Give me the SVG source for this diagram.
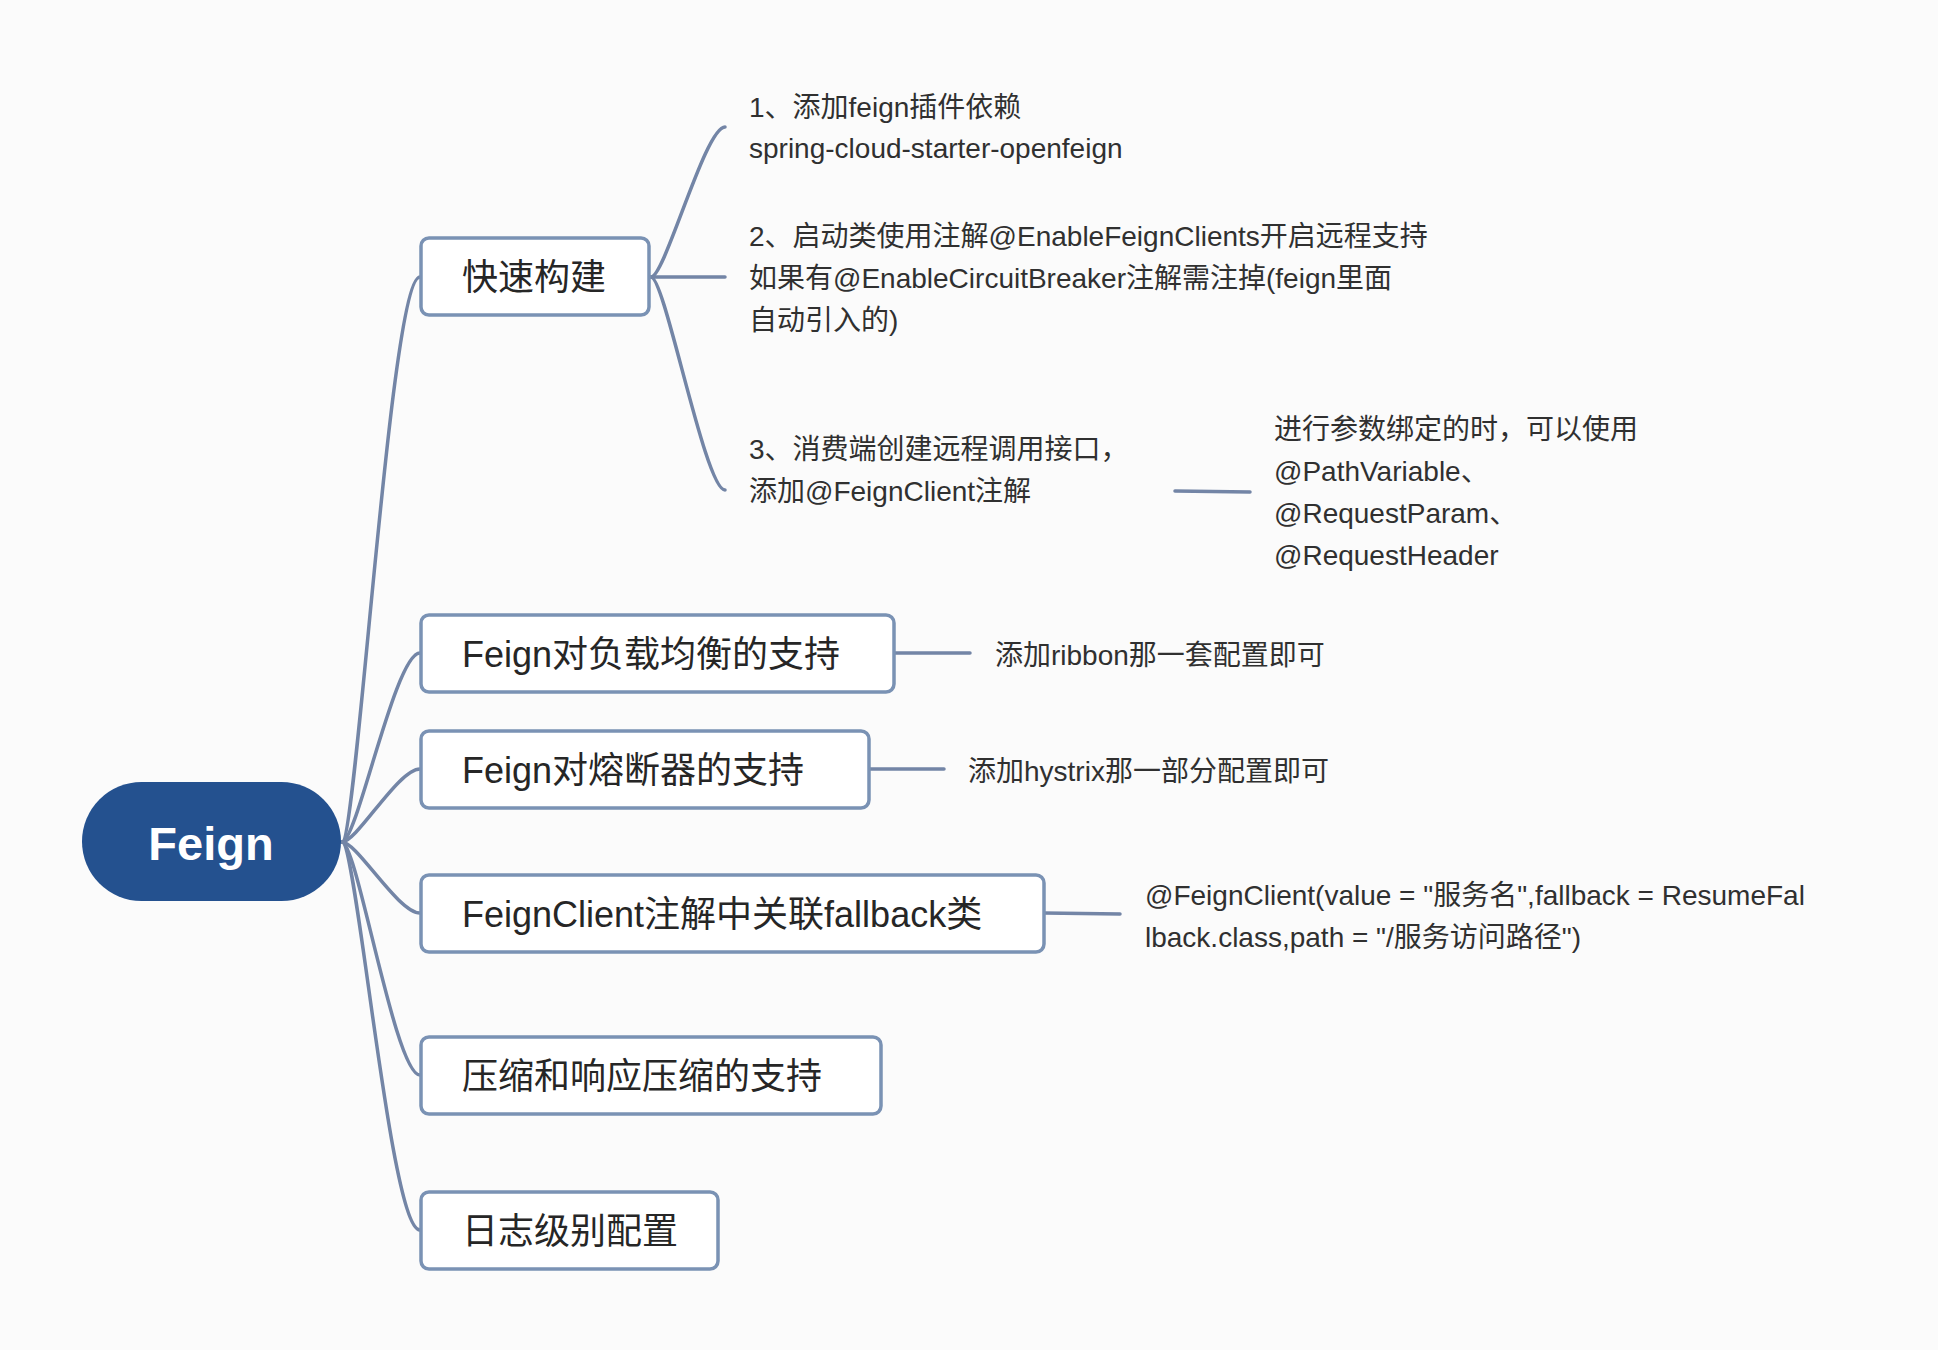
<svg xmlns="http://www.w3.org/2000/svg" width="1938" height="1350" viewBox="0 0 1938 1350">
<style>
.bg{fill:#fbfbfb}
.box{fill:#ffffff;stroke:#7a92b4;stroke-width:3.5}
.lbl{font-family:"Liberation Sans","Noto Sans CJK SC",sans-serif;font-size:36px;fill:#262626}
.txt{font-family:"Liberation Sans","Noto Sans CJK SC",sans-serif;font-size:28px;fill:#303030}
.root{fill:#24518f}
.rootlbl{font-family:"Liberation Sans","Noto Sans CJK SC",sans-serif;font-size:47px;font-weight:bold;fill:#ffffff}
.ln{fill:none;stroke:#7385a6;stroke-width:3.5;stroke-linecap:round}
</style>
<rect class="bg" x="0" y="0" width="1938" height="1350"/>
<g id="connectors">
<path class="ln" d="M342 842 C357 842,390 277,420 277"/>
<path class="ln" d="M342 842 C357 842,395 653,420 653"/>
<path class="ln" d="M342 842 C357 842,398 769,420 769"/>
<path class="ln" d="M342 842 C357 842,398 913,420 913"/>
<path class="ln" d="M342 842 C357 842,395 1075,420 1075"/>
<path class="ln" d="M342 842 C357 842,390 1230,420 1230"/>
<path class="ln" d="M651 277 C665 277,705 127,725 127"/>
<path class="ln" d="M651 277 L725 277"/>
<path class="ln" d="M651 277 C665 277,705 490,725 490"/>
<path class="ln" d="M1175 491 L1250 492"/>
<path class="ln" d="M894 653 L970 653"/>
<path class="ln" d="M869 769 L944 769"/>
<path class="ln" d="M1044 913 L1120 914"/>
</g>
<g id="root">
<rect class="root" x="82" y="782" width="259" height="119" rx="59.5"/>
<text class="rootlbl" x="211" y="860" text-anchor="middle">Feign</text>
</g>
<g id="n-kuaisu">
<rect class="box" x="421" y="238" width="228" height="77" rx="8"/>
<text class="lbl" x="462" y="290">快速构建</text>
</g>
<g id="n-ribbon">
<rect class="box" x="421" y="615" width="473" height="77" rx="8"/>
<text class="lbl" x="462" y="667">Feign对负载均衡的支持</text>
</g>
<g id="n-hystrix">
<rect class="box" x="421" y="731" width="448" height="77" rx="8"/>
<text class="lbl" x="462" y="783">Feign对熔断器的支持</text>
</g>
<g id="n-fallback">
<rect class="box" x="421" y="875" width="623" height="77" rx="8"/>
<text class="lbl" x="462" y="927">FeignClient注解中关联fallback类</text>
</g>
<g id="n-compress">
<rect class="box" x="421" y="1037" width="460" height="77" rx="8"/>
<text class="lbl" x="462" y="1089">压缩和响应压缩的支持</text>
</g>
<g id="n-log">
<rect class="box" x="421" y="1192" width="297" height="77" rx="8"/>
<text class="lbl" x="462" y="1244">日志级别配置</text>
</g>
<g id="t-step1">
<text class="txt" x="749" y="117">1、添加feign插件依赖</text>
<text class="txt" x="749" y="158">spring-cloud-starter-openfeign</text>
</g>
<g id="t-step2">
<text class="txt" x="749" y="246">2、启动类使用注解@EnableFeignClients开启远程支持</text>
<text class="txt" x="749" y="288">如果有@EnableCircuitBreaker注解需注掉(feign里面</text>
<text class="txt" x="749" y="330">自动引入的)</text>
</g>
<g id="t-step3">
<text class="txt" x="749" y="459">3、消费端创建远程调用接口，</text>
<text class="txt" x="749" y="501">添加@FeignClient注解</text>
</g>
<g id="t-params">
<text class="txt" x="1274" y="439">进行参数绑定的时，可以使用</text>
<text class="txt" x="1274" y="481">@PathVariable、</text>
<text class="txt" x="1274" y="523">@RequestParam、</text>
<text class="txt" x="1274" y="565">@RequestHeader</text>
</g>
<g id="t-ribbon">
<text class="txt" x="995" y="665">添加ribbon那一套配置即可</text>
</g>
<g id="t-hystrix">
<text class="txt" x="968" y="781">添加hystrix那一部分配置即可</text>
</g>
<g id="t-fallback">
<text class="txt" x="1145" y="905">@FeignClient(value = "服务名",fallback = ResumeFal</text>
<text class="txt" x="1145" y="947">lback.class,path = "/服务访问路径")</text>
</g>
</svg>
